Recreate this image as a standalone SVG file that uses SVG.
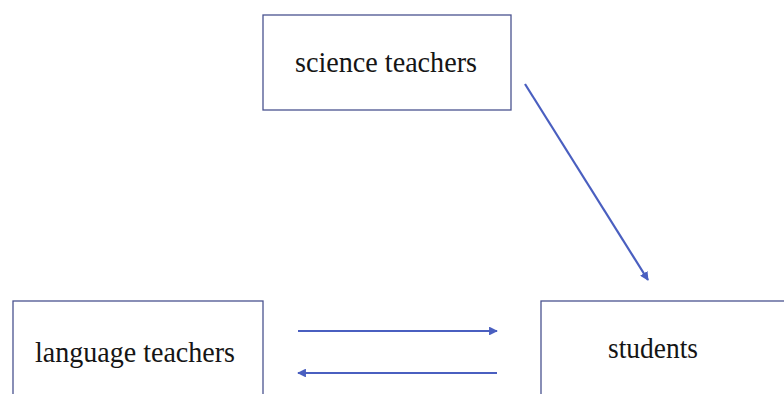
<svg xmlns="http://www.w3.org/2000/svg" width="784" height="394" viewBox="0 0 784 394">
<defs>
<style>
.box{fill:#ffffff;stroke:#4a5390;stroke-width:1.3}
.lbl{font-family:"Liberation Serif","Times New Roman",serif;font-size:29px;fill:#151515;text-anchor:middle}
.edge{stroke:#4a5fc0;stroke-width:2.2;fill:none;marker-end:url(#ah)}
</style>
<marker id="ah" viewBox="0 0 10 10" refX="9" refY="5" markerWidth="4" markerHeight="4" orient="auto" markerUnits="strokeWidth">
<path d="M0,0 L10,5 L0,10 z" fill="#4a5fc0"/>
</marker>
</defs>
<rect width="784" height="394" fill="#ffffff"/>
<g id="science">
<rect class="box" x="263" y="15" width="248" height="95"/>
<text class="lbl" x="386" y="72" textLength="182" lengthAdjust="spacingAndGlyphs">science teachers</text>
</g>
<g id="language">
<rect class="box" x="13" y="301" width="250" height="110"/>
<text class="lbl" x="135" y="362" textLength="200" lengthAdjust="spacingAndGlyphs">language teachers</text>
</g>
<g id="students">
<rect class="box" x="541" y="301" width="260" height="110"/>
<text class="lbl" x="653" y="358" textLength="90" lengthAdjust="spacingAndGlyphs">students</text>
</g>
<g id="connectors">
<line class="edge" x1="525" y1="84" x2="648" y2="280"/>
<line class="edge" x1="298" y1="331" x2="497" y2="331"/>
<line class="edge" x1="497" y1="373" x2="298" y2="373"/>
</g>
</svg>
